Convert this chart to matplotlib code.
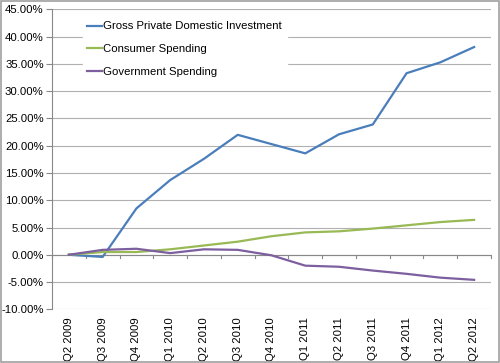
import matplotlib
matplotlib.use("Agg")
import matplotlib.pyplot as plt
from matplotlib.ticker import FuncFormatter, MultipleLocator
from matplotlib.patches import Rectangle

plt.rcParams['font.family'] = ['Liberation Sans', 'DejaVu Sans']

quarters = ["Q2 2009", "Q3 2009", "Q4 2009", "Q1 2010", "Q2 2010", "Q3 2010", "Q4 2010",
            "Q1 2011", "Q2 2011", "Q3 2011", "Q4 2011", "Q1 2012", "Q2 2012"]
investment = [0.0, -0.4, 8.5, 13.7, 17.6, 22.0, 20.3, 18.6, 22.1, 23.9, 33.3, 35.3, 38.1]
consumer = [0.0, 0.5, 0.5, 1.0, 1.7, 2.4, 3.4, 4.1, 4.3, 4.8, 5.4, 6.0, 6.4]
government = [0.0, 0.9, 1.1, 0.3, 1.0, 0.9, -0.1, -2.0, -2.2, -2.9, -3.5, -4.2, -4.6]

fs = 8.2

fig = plt.figure(figsize=(5.0, 3.63), dpi=100)
ax = fig.add_axes([0.104, 0.148, 0.878, 0.826])

x = range(len(quarters))
ax.plot(x, investment, color="#4a7ebb", lw=1.6, label="Gross Private Domestic Investment")
ax.plot(x, consumer, color="#98b954", lw=1.6, label="Consumer Spending")
ax.plot(x, government, color="#7d5fa0", lw=1.6, label="Government Spending")

ax.set_xlim(-0.5, len(quarters) - 0.5)
ax.set_ylim(-10, 45)
ax.yaxis.set_major_locator(MultipleLocator(5))
ax.yaxis.set_major_formatter(FuncFormatter(lambda v, p: f"{v:.2f}%"))
ax.grid(axis='y', color="#b0b0b0", lw=0.8)
ax.set_axisbelow(True)

ax.set_xticks(list(x))
ax.set_xticklabels(quarters, rotation=90, fontsize=fs)
ax.tick_params(axis='x', length=0, pad=6)
ax.tick_params(axis='y', labelsize=fs, length=4, color="#888888", direction='out', pad=2)
for i in range(len(quarters) + 1):
    ax.plot([i - 0.5, i - 0.5], [-0.6, 0], color="#888888", lw=0.8, zorder=1, clip_on=False)
ax.axhline(0, color="#888888", lw=0.8, zorder=1)

for s in ["top", "right", "bottom"]:
    ax.spines[s].set_visible(False)
ax.spines["left"].set_color("#888888")
ax.spines["left"].set_linewidth(0.8)

leg = ax.legend(loc="upper left", bbox_to_anchor=(0.07, 0.975), frameon=True, fontsize=fs,
                handlelength=1.3, handletextpad=0.1, labelspacing=1.1, borderaxespad=0)
leg.get_frame().set_edgecolor("white")
leg.get_frame().set_facecolor("white")
leg.get_frame().set_alpha(1)

fig.patches.append(Rectangle((0.002, 0.002), 0.996, 0.996, transform=fig.transFigure,
                             fill=False, edgecolor="#a0a0a0", lw=1.2))

fig.savefig("out.png", dpi=100)
